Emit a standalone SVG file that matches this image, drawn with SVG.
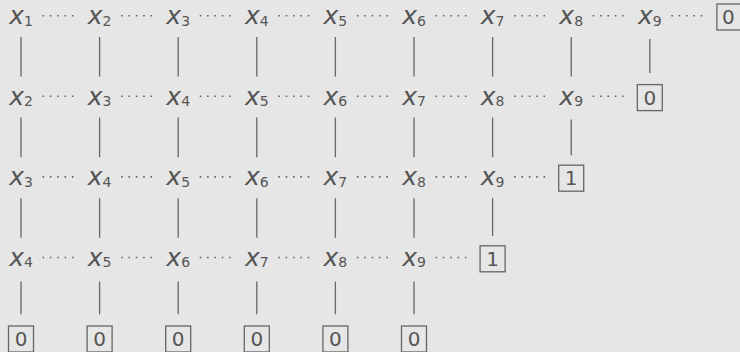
<svg xmlns="http://www.w3.org/2000/svg" width="740" height="352" viewBox="0 0 740 352">
<style>
.bg{fill:#e6e6e6}
.v{font-family:"DejaVu Sans",sans-serif;font-style:italic;font-size:25px;fill:#555;text-anchor:middle}
.s{font-style:normal;font-size:14px}
.b{fill:none;stroke:#666;stroke-width:1.3}
.bt{font-family:"DejaVu Sans",sans-serif;font-size:20px;fill:#555;text-anchor:middle}
.e line{stroke:#666;stroke-width:1.3}
.e line.d{stroke-width:1.6;stroke-dasharray:1.6 5.75}
</style>
<rect class="bg" width="740" height="352"/>
<g id="connectors" class="e">
<line class="d" x1="42.5" y1="15.7" x2="74" y2="15.7"/>
<line class="d" x1="121.1" y1="15.7" x2="152.6" y2="15.7"/>
<line class="d" x1="199.7" y1="15.7" x2="231.2" y2="15.7"/>
<line class="d" x1="278.3" y1="15.7" x2="309.8" y2="15.7"/>
<line class="d" x1="356.9" y1="15.7" x2="388.4" y2="15.7"/>
<line class="d" x1="435.5" y1="15.7" x2="467" y2="15.7"/>
<line class="d" x1="514.1" y1="15.7" x2="545.6" y2="15.7"/>
<line class="d" x1="592.7" y1="15.7" x2="624.2" y2="15.7"/>
<line class="d" x1="671.3" y1="15.7" x2="702.8" y2="15.7"/>
<line class="d" x1="42.5" y1="96.3" x2="74" y2="96.3"/>
<line class="d" x1="121.1" y1="96.3" x2="152.6" y2="96.3"/>
<line class="d" x1="199.7" y1="96.3" x2="231.2" y2="96.3"/>
<line class="d" x1="278.3" y1="96.3" x2="309.8" y2="96.3"/>
<line class="d" x1="356.9" y1="96.3" x2="388.4" y2="96.3"/>
<line class="d" x1="435.5" y1="96.3" x2="467" y2="96.3"/>
<line class="d" x1="514.1" y1="96.3" x2="545.6" y2="96.3"/>
<line class="d" x1="592.7" y1="96.3" x2="624.2" y2="96.3"/>
<line class="d" x1="42.5" y1="176.9" x2="74" y2="176.9"/>
<line class="d" x1="121.1" y1="176.9" x2="152.6" y2="176.9"/>
<line class="d" x1="199.7" y1="176.9" x2="231.2" y2="176.9"/>
<line class="d" x1="278.3" y1="176.9" x2="309.8" y2="176.9"/>
<line class="d" x1="356.9" y1="176.9" x2="388.4" y2="176.9"/>
<line class="d" x1="435.5" y1="176.9" x2="467" y2="176.9"/>
<line class="d" x1="514.1" y1="176.9" x2="545.6" y2="176.9"/>
<line class="d" x1="42.5" y1="257.5" x2="74" y2="257.5"/>
<line class="d" x1="121.1" y1="257.5" x2="152.6" y2="257.5"/>
<line class="d" x1="199.7" y1="257.5" x2="231.2" y2="257.5"/>
<line class="d" x1="278.3" y1="257.5" x2="309.8" y2="257.5"/>
<line class="d" x1="356.9" y1="257.5" x2="388.4" y2="257.5"/>
<line class="d" x1="435.5" y1="257.5" x2="467" y2="257.5"/>
<line x1="21" y1="37" x2="21" y2="76.6"/>
<line x1="99.6" y1="37" x2="99.6" y2="76.6"/>
<line x1="178.2" y1="37" x2="178.2" y2="76.6"/>
<line x1="256.8" y1="37" x2="256.8" y2="76.6"/>
<line x1="335.4" y1="37" x2="335.4" y2="76.6"/>
<line x1="414" y1="37" x2="414" y2="76.6"/>
<line x1="492.6" y1="37" x2="492.6" y2="76.6"/>
<line x1="571.2" y1="37" x2="571.2" y2="76.6"/>
<line x1="649.8" y1="39" x2="649.8" y2="73"/>
<line x1="21" y1="117.6" x2="21" y2="157.2"/>
<line x1="99.6" y1="117.6" x2="99.6" y2="157.2"/>
<line x1="178.2" y1="117.6" x2="178.2" y2="157.2"/>
<line x1="256.8" y1="117.6" x2="256.8" y2="157.2"/>
<line x1="335.4" y1="117.6" x2="335.4" y2="157.2"/>
<line x1="414" y1="117.6" x2="414" y2="157.2"/>
<line x1="492.6" y1="117.6" x2="492.6" y2="157.2"/>
<line x1="571.2" y1="119.6" x2="571.2" y2="155.2"/>
<line x1="21" y1="198.2" x2="21" y2="237.8"/>
<line x1="99.6" y1="198.2" x2="99.6" y2="237.8"/>
<line x1="178.2" y1="198.2" x2="178.2" y2="237.8"/>
<line x1="256.8" y1="198.2" x2="256.8" y2="237.8"/>
<line x1="335.4" y1="198.2" x2="335.4" y2="237.8"/>
<line x1="414" y1="198.2" x2="414" y2="237.8"/>
<line x1="492.6" y1="198.2" x2="492.6" y2="236"/>
<line x1="21" y1="281.5" x2="21" y2="314.3"/>
<line x1="99.6" y1="281.5" x2="99.6" y2="314.3"/>
<line x1="178.2" y1="281.5" x2="178.2" y2="314.3"/>
<line x1="256.8" y1="281.5" x2="256.8" y2="314.3"/>
<line x1="335.4" y1="281.5" x2="335.4" y2="314.3"/>
<line x1="414" y1="281.5" x2="414" y2="314.3"/>
</g>
<g id="r0c0"><text class="v" x="21" y="24">x<tspan class="s" dy="1.5">1</tspan></text></g>
<g id="r0c1"><text class="v" x="99.6" y="24">x<tspan class="s" dy="1.5">2</tspan></text></g>
<g id="r0c2"><text class="v" x="178.2" y="24">x<tspan class="s" dy="1.5">3</tspan></text></g>
<g id="r0c3"><text class="v" x="256.8" y="24">x<tspan class="s" dy="1.5">4</tspan></text></g>
<g id="r0c4"><text class="v" x="335.4" y="24">x<tspan class="s" dy="1.5">5</tspan></text></g>
<g id="r0c5"><text class="v" x="414" y="24">x<tspan class="s" dy="1.5">6</tspan></text></g>
<g id="r0c6"><text class="v" x="492.6" y="24">x<tspan class="s" dy="1.5">7</tspan></text></g>
<g id="r0c7"><text class="v" x="571.2" y="24">x<tspan class="s" dy="1.5">8</tspan></text></g>
<g id="r0c8"><text class="v" x="649.8" y="24">x<tspan class="s" dy="1.5">9</tspan></text></g>
<g id="r0c9"><rect class="b" x="716.9" y="4" width="25" height="26"/><text class="bt" x="728.4" y="24">0</text></g>
<g id="r1c0"><text class="v" x="21" y="104.6">x<tspan class="s" dy="1.5">2</tspan></text></g>
<g id="r1c1"><text class="v" x="99.6" y="104.6">x<tspan class="s" dy="1.5">3</tspan></text></g>
<g id="r1c2"><text class="v" x="178.2" y="104.6">x<tspan class="s" dy="1.5">4</tspan></text></g>
<g id="r1c3"><text class="v" x="256.8" y="104.6">x<tspan class="s" dy="1.5">5</tspan></text></g>
<g id="r1c4"><text class="v" x="335.4" y="104.6">x<tspan class="s" dy="1.5">6</tspan></text></g>
<g id="r1c5"><text class="v" x="414" y="104.6">x<tspan class="s" dy="1.5">7</tspan></text></g>
<g id="r1c6"><text class="v" x="492.6" y="104.6">x<tspan class="s" dy="1.5">8</tspan></text></g>
<g id="r1c7"><text class="v" x="571.2" y="104.6">x<tspan class="s" dy="1.5">9</tspan></text></g>
<g id="r1c8"><rect class="b" x="637.3" y="84.6" width="25" height="26"/><text class="bt" x="649.8" y="104.6">0</text></g>
<g id="r2c0"><text class="v" x="21" y="185.2">x<tspan class="s" dy="1.5">3</tspan></text></g>
<g id="r2c1"><text class="v" x="99.6" y="185.2">x<tspan class="s" dy="1.5">4</tspan></text></g>
<g id="r2c2"><text class="v" x="178.2" y="185.2">x<tspan class="s" dy="1.5">5</tspan></text></g>
<g id="r2c3"><text class="v" x="256.8" y="185.2">x<tspan class="s" dy="1.5">6</tspan></text></g>
<g id="r2c4"><text class="v" x="335.4" y="185.2">x<tspan class="s" dy="1.5">7</tspan></text></g>
<g id="r2c5"><text class="v" x="414" y="185.2">x<tspan class="s" dy="1.5">8</tspan></text></g>
<g id="r2c6"><text class="v" x="492.6" y="185.2">x<tspan class="s" dy="1.5">9</tspan></text></g>
<g id="r2c7"><rect class="b" x="558.7" y="165.2" width="25" height="26"/><text class="bt" x="571.2" y="185.2">1</text></g>
<g id="r3c0"><text class="v" x="21" y="265.8">x<tspan class="s" dy="1.5">4</tspan></text></g>
<g id="r3c1"><text class="v" x="99.6" y="265.8">x<tspan class="s" dy="1.5">5</tspan></text></g>
<g id="r3c2"><text class="v" x="178.2" y="265.8">x<tspan class="s" dy="1.5">6</tspan></text></g>
<g id="r3c3"><text class="v" x="256.8" y="265.8">x<tspan class="s" dy="1.5">7</tspan></text></g>
<g id="r3c4"><text class="v" x="335.4" y="265.8">x<tspan class="s" dy="1.5">8</tspan></text></g>
<g id="r3c5"><text class="v" x="414" y="265.8">x<tspan class="s" dy="1.5">9</tspan></text></g>
<g id="r3c6"><rect class="b" x="480.1" y="245.8" width="25" height="26"/><text class="bt" x="492.6" y="265.8">1</text></g>
<g id="r4c0"><rect class="b" x="8.5" y="326" width="25" height="26"/><text class="bt" x="21" y="346">0</text></g>
<g id="r4c1"><rect class="b" x="87.1" y="326" width="25" height="26"/><text class="bt" x="99.6" y="346">0</text></g>
<g id="r4c2"><rect class="b" x="165.7" y="326" width="25" height="26"/><text class="bt" x="178.2" y="346">0</text></g>
<g id="r4c3"><rect class="b" x="244.3" y="326" width="25" height="26"/><text class="bt" x="256.8" y="346">0</text></g>
<g id="r4c4"><rect class="b" x="322.9" y="326" width="25" height="26"/><text class="bt" x="335.4" y="346">0</text></g>
<g id="r4c5"><rect class="b" x="401.5" y="326" width="25" height="26"/><text class="bt" x="414" y="346">0</text></g>
</svg>
